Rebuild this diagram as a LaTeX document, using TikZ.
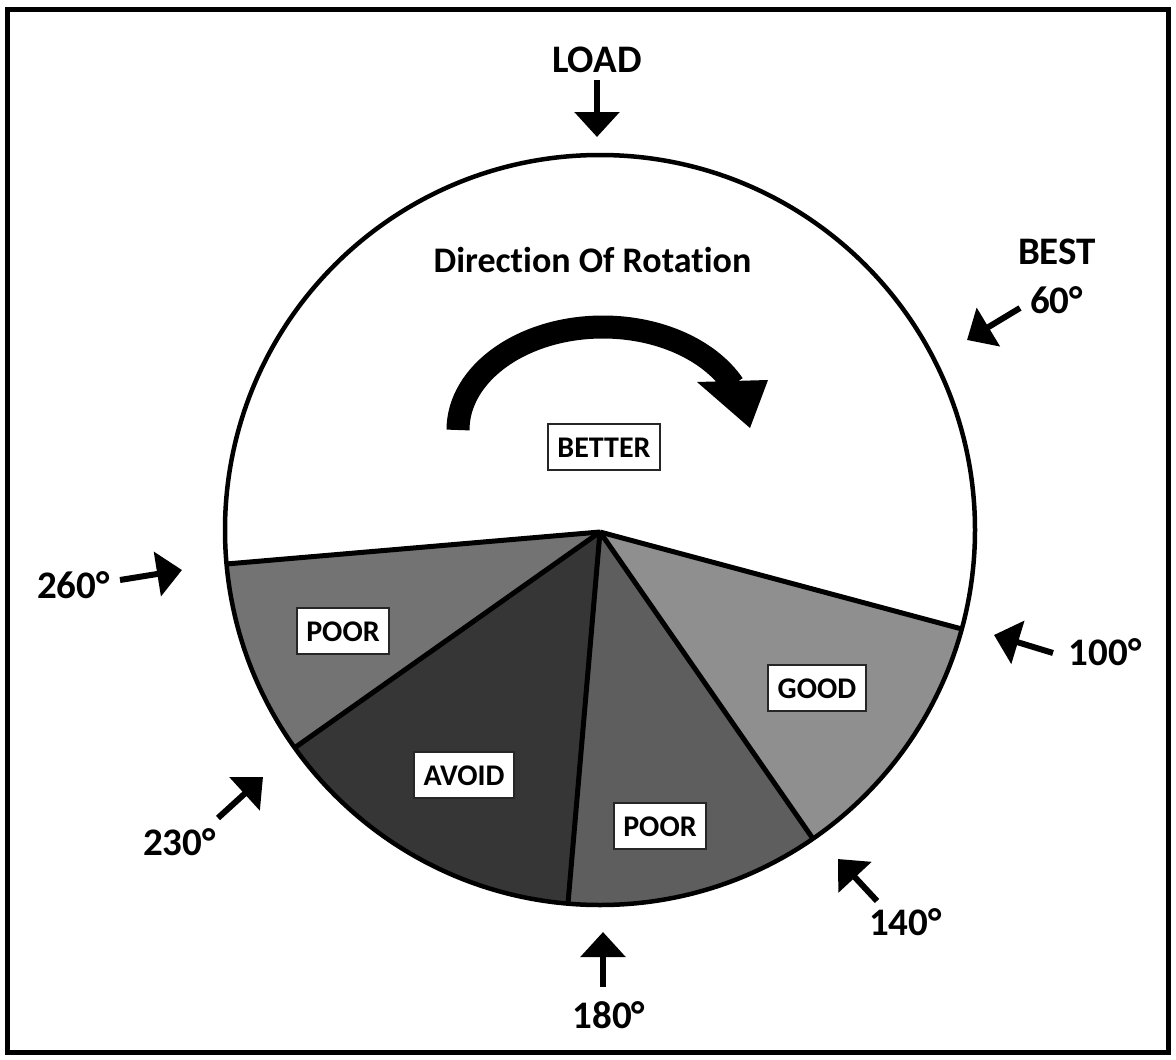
\documentclass[tikz,border=0pt]{standalone}
\usepackage{fontspec}
\setmainfont{Carlito}[Ligatures=NoCommon]
\usetikzlibrary{arrows.meta,calc}
\definecolor{poorlight}{gray}{0.45}
\definecolor{avoidgray}{gray}{0.21}
\definecolor{poordark}{gray}{0.37}
\definecolor{goodgray}{gray}{0.56}
\tikzset{
    big/.style={font=\bfseries\fontsize{39}{41}\selectfont, anchor=base, inner sep=0pt},
    tag/.style={draw=black!85, line width=1.5pt, fill=white, font=\bfseries\fontsize{30}{32}\selectfont,
        text height=20pt, text depth=0pt, inner xsep=9.5pt, inner ysep=13pt},
    pointer/.style={line width=6pt, -{Triangle[length=25pt,width=44pt]}}
}
\begin{document}
\begin{tikzpicture}[x=1pt, y=-1pt]
    \useasboundingbox (0,0) rectangle (1176,1060);
    \draw[line width=5pt] (7.5,9.5) rectangle (1168.5,1052.5);
    \coordinate (c) at (600,530);
    \coordinate (o) at (600,532);
    \foreach \a [count=\i] in {174.8,144.5,94.9,55.4,15.3} {
        \coordinate (rim\i) at ($(c)+(\a:375)$);
    }
    \foreach \a/\b/\col in {174.8/144.5/poorlight, 144.5/94.9/avoidgray, 94.9/55.4/poordark, 55.4/15.3/goodgray} {
        \fill[\col] (o) -- ($(c)+(\b:375)$) arc[start angle=\b, end angle=\a, radius=375] -- cycle;
    }
    \draw[line width=4.5pt] (c) circle[radius=375];
    \foreach \i in {1,...,5} {
        \draw[line width=5pt] (o) -- (rim\i);
    }
    \coordinate (turn) at (458,430);
    \draw[line width=23pt] (turn) arc[start angle=180, end angle=334, x radius=145, y radius=103];
    \fill (697,382) -- (768,380) -- (750,428) -- cycle;
    \node[big] (rotation) at (592.5,272) {\fontsize{36}{38}\selectfont Direction Of Rotation};
    \node[tag] (better) at (604,447) {BETTER};
    \node[tag] (poorleft) at (343,631) {POOR};
    \node[tag] (avoid) at (464,775) {AVOID};
    \node[tag] (poorlow) at (660,826) {POOR};
    \node[tag] (good) at (817,688) {GOOD};
    \node[big] (load) at (597,72.7) {LOAD};
    \node[big] (best) at (1057,264) {BEST};
    \node[big] (deg60) at (1056.5,313) {60°};
    \node[big] (deg100) at (1105,665) {100°};
    \node[big] (deg140) at (905.5,935) {140°};
    \node[big] (deg180) at (609,1028) {180°};
    \node[big] (deg230) at (179.5,855) {230°};
    \node[big] (deg260) at (73.5,598) {260°};
    \foreach \n/\tx/\ty/\hx/\hy in {load/597/80/597/137, best/1020/308/967/340, good/1053/653/994/635,
        poorlow/877/901/838/859, poor/603/987/603/932, avoid/218/818/263/777, poorleft/120/580/182/570} {
        \coordinate (\n tail) at (\tx,\ty);
        \coordinate (\n tip) at (\hx,\hy);
        \draw[pointer] (\n tail) -- (\n tip);
    }
\end{tikzpicture}
\end{document}
